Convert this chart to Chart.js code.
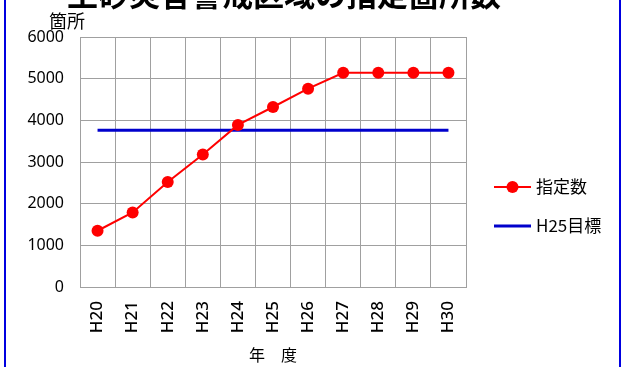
<!DOCTYPE html>
<html>
<head>
<meta charset="utf-8">
<script src="https://cdn.jsdelivr.net/npm/chart.js@4"></script>
<style>
  html, body { margin: 0; padding: 0; background: #fff; }
  #wrap { position: relative; width: 624px; height: 367px; }
  canvas { display: block; }
</style>
</head>
<body>
<div id="wrap"><canvas id="c" width="624" height="367"></canvas></div>
<script>
// Fiscal years (Heisei) along the horizontal axis
const years = ['H20', 'H21', 'H22', 'H23', 'H24', 'H25', 'H26', 'H27', 'H28', 'H29', 'H30'];
// Number of designated locations per year
const designated = [1350, 1790, 2520, 3180, 3890, 4320, 4760, 5140, 5140, 5140, 5140];
// H25 target, held flat across all years
const targetH25 = [3760, 3760, 3760, 3760, 3760, 3760, 3760, 3760, 3760, 3760, 3760];
const yTicks = [0, 1000, 2000, 3000, 4000, 5000, 6000];

const chartTitle = '土砂災害警戒区域の指定箇所数';
const yUnit = '箇所';
const xTitle = '年　度';
const seriesNames = ['指定数', 'H25目標'];

const jp = '"Noto Sans CJK JP", "Noto Sans", sans-serif';
const num = '"Noto Sans", "Liberation Sans", sans-serif';

// Frame, title, unit label and legend drawn on the canvas
const decorations = {
  id: 'decorations',
  afterDraw(chart) {
    const ctx = chart.ctx;
    ctx.save();
    // outer frame
    ctx.strokeStyle = '#0000e0';
    ctx.lineWidth = 2;
    ctx.beginPath();
    ctx.moveTo(5, 0); ctx.lineTo(5, 367);
    ctx.moveTo(620, 0); ctx.lineTo(620, 367);
    ctx.stroke();

    // title (partly above the top edge)
    ctx.fillStyle = '#000';
    ctx.font = 'bold 31px ' + jp;
    ctx.textAlign = 'left';
    ctx.textBaseline = 'alphabetic';
    ctx.fillText(chartTitle, 67, 6);

    // unit label above the value axis
    ctx.font = '18px ' + jp;
    ctx.textBaseline = 'middle';
    ctx.fillText(yUnit, 49, 21);

    // legend
    const items = [
      { label: seriesNames[0], color: '#ff0000', width: 2, marker: true, y: 187 },
      { label: seriesNames[1], color: '#0000cc', width: 3, marker: false, y: 226 }
    ];
    ctx.font = '17px ' + jp;
    items.forEach(it => {
      ctx.strokeStyle = it.color;
      ctx.lineWidth = it.width;
      ctx.beginPath();
      ctx.moveTo(494, it.y); ctx.lineTo(531, it.y);
      ctx.stroke();
      if (it.marker) {
        ctx.fillStyle = it.color;
        ctx.beginPath();
        ctx.arc(512.5, it.y, 6, 0, Math.PI * 2);
        ctx.fill();
      }
      ctx.fillStyle = '#000';
      ctx.fillText(it.label, 536, it.y);
    });
    ctx.restore();
  }
};

new Chart(document.getElementById('c'), {
  type: 'line',
  data: {
    labels: years,
    datasets: [
      {
        label: seriesNames[1],
        data: targetH25,
        borderColor: '#0000cc',
        borderWidth: 3,
        pointRadius: 0,
        tension: 0,
        order: 2
      },
      {
        label: seriesNames[0],
        data: designated,
        borderColor: '#ff0000',
        backgroundColor: '#ff0000',
        borderWidth: 2,
        pointRadius: 6,
        pointBorderWidth: 0,
        pointBackgroundColor: '#ff0000',
        tension: 0,
        order: 1
      }
    ]
  },
  options: {
    responsive: false,
    animation: false,
    layout: { padding: { left: 0, top: 37, right: 158, bottom: 0 } },
    plugins: {
      legend: { display: false },
      tooltip: { enabled: false },
      title: { display: false }
    },
    scales: {
      x: {
        offset: true,
        grid: { offset: true, color: '#a0a0a0', lineWidth: 1, drawTicks: false },
        border: { color: '#a0a0a0' },
        ticks: {
          color: '#000',
          font: { family: num, size: 17, weight: '500' },
          minRotation: 90,
          maxRotation: 90,
          padding: 14,
          autoSkip: false
        },
        title: {
          display: true,
          text: xTitle,
          color: '#000',
          font: { family: jp, size: 16 },
          padding: { top: 0, bottom: 2 }
        },
        afterFit(scale) { scale.height = 80; }
      },
      y: {
        min: 0,
        max: 6000,
        afterBuildTicks(scale) { scale.ticks = yTicks.map(v => ({ value: v })); },
        grid: { color: '#a0a0a0', lineWidth: 1, drawTicks: false },
        border: { color: '#a0a0a0' },
        ticks: {
          color: '#000',
          font: { family: num, size: 16 },
          padding: 16,
          callback: v => String(v)
        },
        afterFit(scale) { scale.width = 80; }
      }
    }
  },
  plugins: [decorations]
});
</script>
</body>
</html>
